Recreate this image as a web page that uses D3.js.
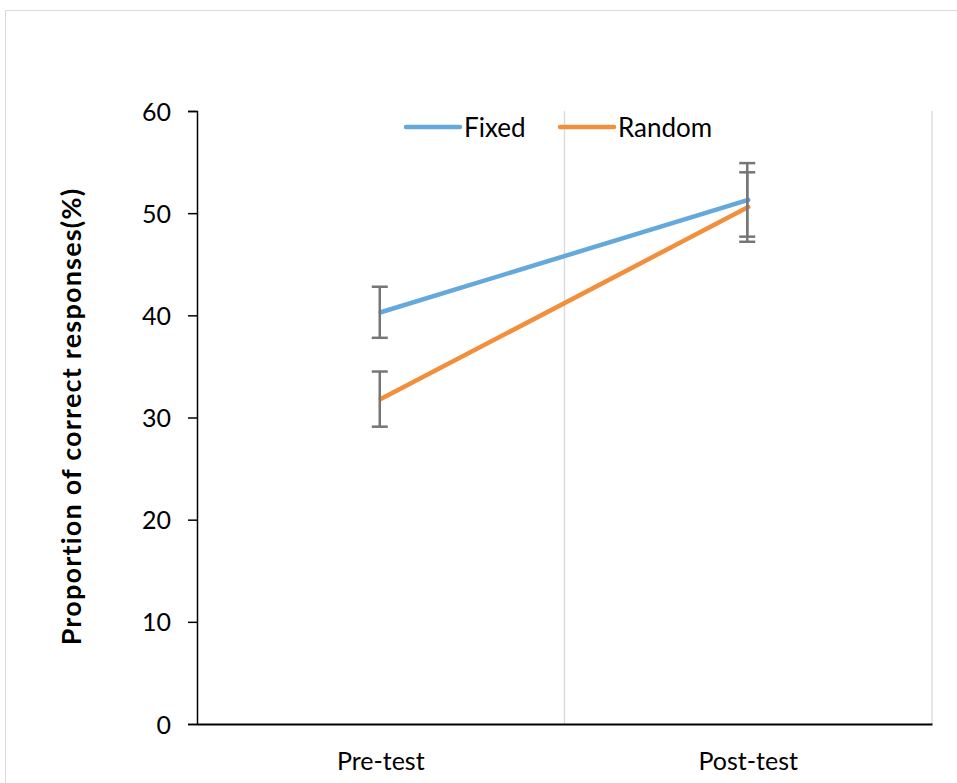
<!DOCTYPE html>
<html>
<head>
<meta charset="utf-8">
<script src="https://cdn.jsdelivr.net/npm/d3@7"></script>
<style>
  html, body { margin: 0; padding: 0; background: #fff; }
  svg { display: block; }
  text { font-family: Lato, "Open Sans", sans-serif; fill: #000; }
</style>
</head>
<body>
<svg id="chart" width="957" height="783"></svg>
<script>
// Test phases on the x axis
const phases = ["Pre-test", "Post-test"];
// Mean proportion correct (%) per group
const fixedMean = [40.3, 51.3];
const randomMean = [31.8, 50.6];
// Error bar half-lengths (%)
const fixedErr = [2.5, 3.6];
const randomErr = [2.7, 3.4];
// Y axis ticks
const yTicks = [0, 10, 20, 30, 40, 50, 60];

const series = [
  { name: "Fixed", mean: fixedMean, err: fixedErr, color: "#65a8dc" },
  { name: "Random", mean: randomMean, err: randomErr, color: "#f28f3d" }
];

const svg = d3.select("#chart");
const W = 957, H = 783;
const margin = { left: 197, right: 25, top: 111, bottom: 59 };

// Outer chart frame
svg.append("rect")
  .attr("x", 5.5).attr("y", 10.5)
  .attr("width", W + 10).attr("height", H + 10)
  .attr("fill", "none").attr("stroke", "#d9d9d9").attr("stroke-width", 1);

const x = d3.scaleBand().domain(phases)
  .range([margin.left, W - margin.right]).paddingInner(0).paddingOuter(0);
const y = d3.scaleLinear().domain([0, 60]).range([H - margin.bottom, margin.top]);

// Vertical gridlines at category boundaries
const bounds = phases.map(p => x(p) + x.bandwidth());
svg.append("g").selectAll("line").data(bounds).join("line")
  .attr("x1", d => d).attr("x2", d => d)
  .attr("y1", y(60)).attr("y2", y(0))
  .attr("stroke", "#d9d9d9").attr("stroke-width", 1.3);

// Y axis
const yAxis = svg.append("g")
  .attr("transform", `translate(${margin.left},0)`)
  .call(d3.axisLeft(y).tickValues(yTicks).tickSize(9).tickPadding(17));
yAxis.select(".domain").attr("stroke", "#000").attr("stroke-width", 1.5);
yAxis.selectAll(".tick line").attr("stroke", "#000").attr("stroke-width", 1.5);
yAxis.selectAll(".tick text").attr("font-size", 25).attr("font-family", "Lato, sans-serif")
  .attr("dy", "0.36em");

// X axis (no ticks)
const xAxis = svg.append("g")
  .attr("transform", `translate(0,${y(0)})`)
  .call(d3.axisBottom(x).tickSize(0).tickPadding(0));
xAxis.select(".domain").attr("stroke", "#000").attr("stroke-width", 2);
xAxis.selectAll(".tick text").attr("font-size", 25).attr("font-family", "Lato, sans-serif")
  .attr("y", 46).attr("dy", 0);

// Y axis title
svg.append("text")
  .attr("transform", `translate(81,${(y(0) + y(60)) / 2 - 1}) rotate(-90)`)
  .attr("text-anchor", "middle")
  .attr("font-size", 27).attr("font-weight", "bold")
  .attr("letter-spacing", 1.2)
  .text("Proportion of correct responses(%)");

const cx = p => x(p) + x.bandwidth() / 2;
const line = d3.line().x((d, i) => cx(phases[i])).y(d => y(d));

// Series lines
series.forEach(s => {
  svg.append("path")
    .datum(s.mean)
    .attr("d", line)
    .attr("fill", "none")
    .attr("stroke", s.color)
    .attr("stroke-width", 4.5)
    .attr("stroke-linecap", "round");
});

// Error bars
series.forEach(s => {
  const g = svg.append("g");
  phases.forEach((p, i) => {
    const xc = cx(p) - 1;
    const lo = y(s.mean[i] - s.err[i]);
    const hi = y(s.mean[i] + s.err[i]);
    g.append("line").attr("x1", xc).attr("x2", xc).attr("y1", lo).attr("y2", hi)
      .attr("stroke", "#767676").attr("stroke-width", 2.5);
    [lo, hi].forEach(v => {
      g.append("line").attr("x1", xc - 8).attr("x2", xc + 8).attr("y1", v).attr("y2", v)
        .attr("stroke", "#767676").attr("stroke-width", 2.5);
    });
  });
});

// Legend
const legend = svg.append("g").attr("transform", "translate(406,127)");
const legX = [0, 154];
series.forEach((s, i) => {
  const g = legend.append("g").attr("transform", `translate(${legX[i]},0)`);
  g.append("line").attr("x1", 0).attr("x2", 54).attr("y1", 0).attr("y2", 0)
    .attr("stroke", s.color).attr("stroke-width", 4.5).attr("stroke-linecap", "round");
  g.append("text").attr("x", 58).attr("y", 10)
    .attr("font-size", 26).text(s.name);
});
</script>
</body>
</html>
